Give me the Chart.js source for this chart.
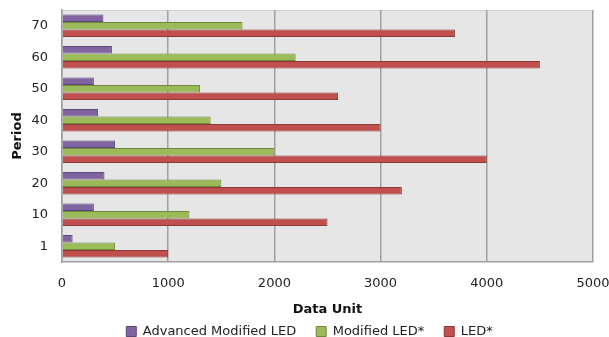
<!DOCTYPE html>
<html>
<head>
<meta charset="utf-8">
<script src="https://cdn.jsdelivr.net/npm/chart.js@4"></script>
<style>
  html, body { margin: 0; padding: 0; background: #fff; }
  #wrap { width: 609px; height: 337px; }
</style>
</head>
<body>
<div id="wrap"><canvas id="myChart" width="609" height="337"></canvas></div>
<script>
// --- data ---
const periods = ['70', '60', '50', '40', '30', '20', '10', '1'];
const advancedModifiedLed = [390, 470, 300, 340, 500, 400, 300, 100];
const modifiedLed = [1700, 2200, 1300, 1400, 2000, 1500, 1200, 500];
const led = [3700, 4500, 2600, 3000, 4000, 3200, 2500, 1000];
const xTicks = [0, 1000, 2000, 3000, 4000, 5000];

// grey plot background, like Excel
const plotBg = {
    id: 'plotBg',
    beforeDraw(chart) {
        const a = chart.chartArea, ctx = chart.ctx;
        ctx.save();
        ctx.fillStyle = '#e6e6e6';
        ctx.fillRect(a.left, a.top, a.right - a.left, a.bottom - a.top);
        ctx.strokeStyle = '#d0d0d0';
        ctx.lineWidth = 1;
        ctx.beginPath(); ctx.moveTo(a.left, a.top + 0.5); ctx.lineTo(a.right, a.top + 0.5); ctx.stroke();
        ctx.restore();
    }
};

// legend keeps wide gaps between items but only takes a fixed height
const legendFit = {
    id: 'legendFit',
    beforeInit(chart) {
        const lg = chart.legend;
        const fit = lg.fit;
        lg.fit = function () { fit.call(this); this.height = 32; };
    }
};

const font = { family: 'DejaVu Sans', size: 13 };

new Chart(document.getElementById('myChart'), {
    type: 'bar',
    data: {
        labels: periods,
        datasets: [
            { label: 'Advanced Modified LED', data: advancedModifiedLed, backgroundColor: '#8064a2', borderColor: '#5c4776', borderWidth: 1 },
            { label: 'Modified LED*', data: modifiedLed, backgroundColor: '#9bbb59', borderColor: '#71893f', borderWidth: 1 },
            { label: 'LED*', data: led, backgroundColor: '#c0504d', borderColor: '#8c3836', borderWidth: 1 }
        ]
    },
    options: {
        indexAxis: 'y',
        responsive: false,
        animation: false,
        layout: { padding: { left: 10, right: 0, top: 10, bottom: 0 } },
        datasets: { bar: { categoryPercentage: 0.71, barPercentage: 1 } },
        scales: {
            x: {
                min: 0, max: 5000,
                afterBuildTicks: (axis) => { axis.ticks = xTicks.map(v => ({ value: v })); },
                afterFit: (axis) => { axis.height = 43; axis.paddingLeft = 0; axis.paddingRight = 16; },
                grid: { color: '#a0a0a0', lineWidth: 1.5, drawTicks: false },
                border: { color: '#a0a0a0', width: 1.5 },
                ticks: { color: '#222', font: font, padding: 14, maxRotation: 0, callback: v => String(v) },
                title: { display: true, text: 'Data Unit', color: '#111', font: { family: 'DejaVu Sans', size: 13, weight: 'bold' }, padding: { top: 0, bottom: -12 } }
            },
            y: {
                afterFit: (axis) => { axis.width = 52; axis.paddingTop = 0; axis.paddingBottom = 0; },
                grid: { display: false, drawTicks: false },
                border: { color: '#a0a0a0', width: 1.5 },
                ticks: { color: '#222', font: font, padding: 14 },
                title: { display: true, text: 'Period', color: '#111', font: { family: 'DejaVu Sans', size: 13, weight: 'bold' }, padding: { top: 0, bottom: 4 } }
            }
        },
        plugins: {
            legend: {
                position: 'bottom',
                labels: { color: '#222', font: font, boxWidth: 10, boxHeight: 10, padding: 20 }
            },
            tooltip: { enabled: false }
        }
    },
    plugins: [plotBg, legendFit]
});
</script>
</body>
</html>
